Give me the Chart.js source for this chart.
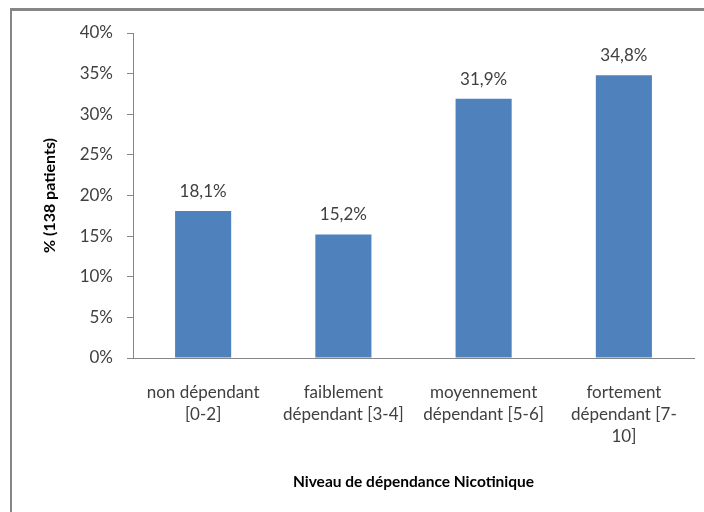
<!DOCTYPE html>
<html>
<head>
<meta charset="utf-8">
<script src="https://cdn.jsdelivr.net/npm/chart.js@4"></script>
<style>
  html, body { margin: 0; padding: 0; background: #fff; overflow: hidden; }
  #wrap { position: relative; width: 704px; height: 512px; }
  canvas { display: block; }
  #frame {
    position: absolute; left: 10px; top: 8px; width: 720px; height: 520px;
    border-top: 3px solid #868686; border-left: 2px solid #868686;
    pointer-events: none;
  }
</style>
</head>
<body>
<div id="wrap"><canvas id="nicoChart" width="704" height="512"></canvas><div id="frame"></div></div>
<script>
const categories = [
    ['non dépendant', '[0-2]'],
    ['faiblement', 'dépendant [3-4]'],
    ['moyennement', 'dépendant [5-6]'],
    ['fortement', 'dépendant [7-', '10]']
];
const percents = [18.1, 15.2, 31.9, 34.8];

const gray = '#868686';
const textColor = '#404040';

// value labels above each bar
const valueLabels = {
    id: 'valueLabels',
    afterDatasetsDraw(chart) {
        const ctx = chart.ctx;
        const meta = chart.getDatasetMeta(0);
        ctx.save();
        ctx.font = '17px Lato';
        ctx.fillStyle = textColor;
        ctx.textAlign = 'center';
        ctx.textBaseline = 'bottom';
        meta.data.forEach((bar, i) => {
            const txt = percents[i].toFixed(1).replace('.', ',') + '%';
            ctx.fillText(txt, bar.x, bar.y - 11);
        });
        ctx.restore();
    }
};

const ctx = document.getElementById('nicoChart').getContext('2d');
new Chart(ctx, {
    type: 'bar',
    data: {
        labels: categories,
        datasets: [{
            data: percents,
            backgroundColor: '#4F81BD',
            borderWidth: 0,
            barPercentage: 0.4,
            categoryPercentage: 1
        }]
    },
    options: {
        responsive: false,
        animation: false,
        layout: { padding: { left: 20, top: 33, right: 10, bottom: 0 } },
        plugins: {
            legend: { display: false },
            tooltip: { enabled: false }
        },
        scales: {
            y: {
                min: 0,
                max: 40,
                ticks: {
                    stepSize: 5,
                    padding: 14,
                    color: textColor,
                    font: { family: 'Lato', size: 17 },
                    callback: v => v + '%'
                },
                grid: { drawOnChartArea: false, drawTicks: true, tickLength: 6, color: gray },
                border: { color: gray },
                title: {
                    display: true,
                    text: '% (138 patients)',
                    color: '#000',
                    font: { family: 'Lato', size: 16, weight: 'bold' },
                    padding: { top: 20, bottom: 0 }
                },
                afterFit(scale) { scale.width = 113; }
            },
            x: {
                ticks: {
                    padding: 24,
                    color: textColor,
                    maxRotation: 0,
                    autoSkip: false,
                    font: { family: 'Lato', size: 17, lineHeight: '22px' }
                },
                grid: { display: false, drawTicks: false },
                border: { color: gray },
                title: {
                    display: true,
                    text: 'Niveau de dépendance Nicotinique',
                    color: '#000',
                    font: { family: 'Lato', size: 15.5, weight: 'bold' },
                    padding: { top: 10, bottom: 21 }
                },
                afterFit(scale) { scale.height = 154; }
            }
        }
    },
    plugins: [valueLabels]
});
</script>
</body>
</html>
